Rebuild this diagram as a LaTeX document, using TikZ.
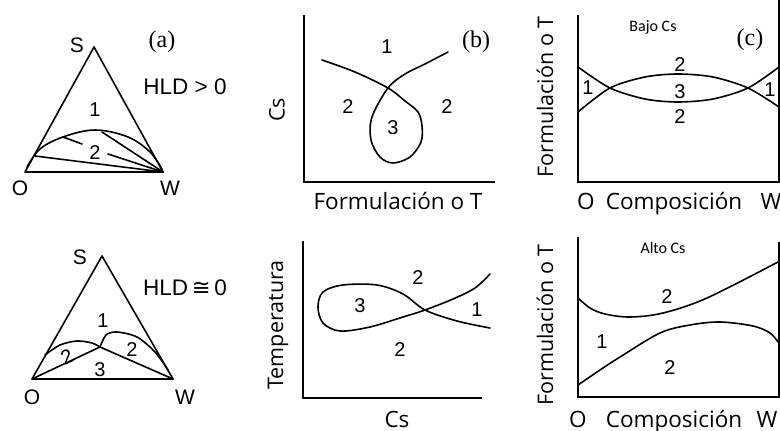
\documentclass[tikz,border=0pt]{standalone}
\usepackage{fontspec}
\setmainfont{Liberation Sans}
\newfontfamily\axfont{Open Sans}
\newfontfamily\smfont{Carlito}
\newfontfamily\serfont{Liberation Serif}
\newfontfamily\symfont{DejaVu Sans}
\begin{document}
\begin{tikzpicture}[x=1pt,y=-1pt,
  curve/.style={line width=1.6pt,line join=round,line cap=round},
  axis/.style={line width=2pt},
  num/.style={font=\fontsize{20}{20}\selectfont,inner sep=0pt},
  corner/.style={font=\fontsize{21}{21}\selectfont,inner sep=0pt},
  axlab/.style={font=\axfont\fontsize{22.5}{22.5}\selectfont,inner sep=0pt},
  axlabv/.style={font=\axfont\fontsize{21.5}{21.5}\selectfont,inner sep=0pt,rotate=90},
  small/.style={font=\smfont\fontsize{16}{16}\selectfont,inner sep=0pt},
  tag/.style={font=\serfont\fontsize{24}{24}\selectfont,inner sep=0pt},
  hld/.style={font=\fontsize{22.5}{22.5}\selectfont,inner sep=0pt}]
\useasboundingbox[fill=white] (0,0) rectangle (780,431);

% ---------- panel (a) top ----------
\coordinate (aO) at (25,172);
\coordinate (aS) at (94,47);
\coordinate (aW) at (163,172);
\draw[curve] (aO) -- (aS) -- (aW) -- cycle;
\draw[curve] plot[smooth,tension=0.6] coordinates {(27,167) (40,149) (63,137) (95,130) (128,137) (150,152) (162,169)};
\draw[curve] (35,156) -- (aW);
\draw[curve] (63,137) -- (82,144);
\draw[curve] (108,154) -- (aW);
\draw[curve] (102,132) -- (aW);
\node[corner] (lS1) at (77,45) {S};
\node[corner] (lO1) at (20,188) {O};
\node[corner] (lW1) at (170,188) {W};
\node[tag] (ta) at (162,42) {(a)};
\node[hld] (h1) at (185,87) {HLD > 0};
\node[num] (a1) at (95,110) {1};
\node[num] (a2) at (95,153) {2};

% ---------- panel (a) bottom ----------
\coordinate (bO) at (32,379);
\coordinate (bS) at (102,256);
\coordinate (bW) at (173,379);
\coordinate (bM) at (100,347);
\draw[curve] (bO) -- (bS) -- (bW) -- cycle;
\draw[curve] (bO) -- (bM) -- (bW);
\draw[curve] plot[smooth] coordinates {(45,355) (60,345) (77,341) (92,343) (bM)};
\draw[curve] plot[smooth] coordinates {(bM) (106,335) (117,332) (137,337) (155,352) (168,370)};
\node[corner] (lS2) at (80,257) {S};
\node[corner] (lO2) at (32,397) {O};
\node[corner] (lW2) at (185,397) {W};
\node[hld] (h2) at (185,288) {HLD\,{\symfont ≅}\,0};
\node[num] (b1) at (103,321) {1};
\node[num,rotate=25] (b2l) at (67,357) {2};
\node[num] (b2r) at (132,350) {2};
\node[num] (b3) at (100,370) {3};

% ---------- panel (b) top ----------
\coordinate (pbT) at (304,15);
\coordinate (pbO) at (304,182);
\coordinate (pbR) at (495,182);
\draw[axis] (pbT) -- (pbO) -- (pbR);
\draw[curve] plot[smooth,tension=0.55] coordinates {(322,60) (355,72) (388,88) (405,101) (418,112) (422,126) (421,142) (410,157) (393,163) (380,157) (371,140) (372,117) (388,88) (405,74) (425,64) (448,52)};
\node[axlabv] (cs1) at (277,110) {Cs};
\node[axlab,anchor=base] (fx1) at (398,209) {Formulación o T};
\node[tag] (tb) at (476,42) {(b)};
\node[num] (c1) at (387,47) {1};
\node[num] (c2l) at (348,107) {2};
\node[num] (c2r) at (447,107) {2};
\node[num] (c3) at (393,128) {3};

% ---------- panel (b) bottom ----------
\coordinate (qbT) at (303,241);
\coordinate (qbO) at (303,398);
\coordinate (qbR) at (482,398);
\draw[axis] (qbT) -- (qbO) -- (qbR);
\draw[curve] plot[smooth,tension=0.55] coordinates {(490,328) (457,321) (425,310) (403,294) (377,285) (343,285) (323,292) (318,307) (323,323) (340,331) (370,327) (403,317) (425,310) (453,299) (475,288) (490,274)};
\node[axlabv] (tp) at (278,325) {Temperatura};
\node[axlab,anchor=base] (cs2) at (397,427) {Cs};
\node[num] (d2t) at (418,278) {2};
\node[num] (d3) at (360,306) {3};
\node[num] (d1) at (477,310) {1};
\node[num] (d2b) at (400,350) {2};

% ---------- panel (c) top ----------
\coordinate (pcT) at (578,15);
\coordinate (pcO) at (578,182);
\coordinate (pcR) at (780,182);
\draw[axis] (pcT) -- (pcO) -- (pcR);
\draw[line width=2.5pt] (779,0) -- (779,182);
\draw[curve] plot[smooth,tension=0.5] coordinates {(578,67) (610,88) (645,99) (678,102) (713,99) (748,88) (779,67)};
\draw[curve] plot[smooth,tension=0.5] coordinates {(578,112) (610,88) (645,77) (678,74) (713,77) (748,88) (779,107)};
\node[axlabv] (fy1) at (545,97) {Formulación o T};
\node[small] (bajo) at (653,27) {Bajo Cs};
\node[tag] (tc) at (750,40) {(c)};
\node[axlab,anchor=base] (o1) at (586,209) {O};
\node[axlab,anchor=base] (comp1) at (674,209) {Composición};
\node[axlab,anchor=base] (w1) at (771,209) {W};
\node[num] (e2t) at (680,65) {2};
\node[num] (e3) at (680,92) {3};
\node[num] (e2b) at (680,117) {2};
\node[num] (e1l) at (588,88) {1};
\node[num] (e1r) at (770,90) {1};

% ---------- panel (c) bottom ----------
\coordinate (qcT) at (578,237);
\coordinate (qcO) at (578,397);
\coordinate (qcR) at (780,397);
\draw[axis] (qcT) -- (qcO) -- (qcR);
\draw[line width=2.5pt] (779,242) -- (779,397);
\draw[curve] plot[smooth,tension=0.55] coordinates {(578,298) (590,308) (605,314) (630,317) (663,313) (707,298) (778,262)};
\draw[curve] plot[smooth,tension=0.55] coordinates {(578,385) (600,370) (620,357) (660,333) (690,325) (720,322) (753,326) (770,333) (778,342)};
\node[axlabv] (fy2) at (545,325) {Formulación o T};
\node[small] (alto) at (663,248) {Alto Cs};
\node[axlab,anchor=base] (o2) at (578,427) {O};
\node[axlab,anchor=base] (comp2) at (674,427) {Composición};
\node[axlab,anchor=base] (w2) at (767,427) {W};
\node[num] (f2t) at (667,297) {2};
\node[num] (f1) at (602,342) {1};
\node[num] (f2b) at (670,368) {2};
\end{tikzpicture}
\end{document}
